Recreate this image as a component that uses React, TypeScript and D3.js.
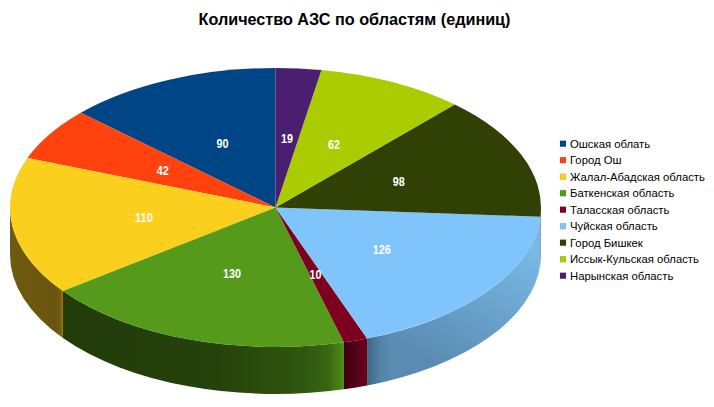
import React from "react";
import * as d3 from "d3";

const categories = ["Ошская облать","Город Ош","Жалал-Абадская область","Баткенская область","Таласская область","Чуйская область","Город Бишкек","Иссык-Кульская область","Нарынская область"];
const values = [90,42,110,130,10,126,98,62,19];
const colors = ["#004586","#ff420e","#fbcf1e","#559a1b","#7e0021","#7fc4fb","#314004","#abcc00","#4b1f6f"];
const title = "Количество АЗС по областям (единиц)";

const W = 714, H = 407;
const cx = 275.5, cy = 207.5, rx = 265.5, ry = 139.5, depth = 47;
const font = "'Liberation Sans', Arial, sans-serif";

const pie = d3.pie<number>().sort(null).startAngle(0).endAngle(-2 * Math.PI);
const arcs = pie(values);
const arcGen = d3.arc<d3.PieArcDatum<number>>().innerRadius(0).outerRadius(rx);
const labelArc = d3.arc<d3.PieArcDatum<number>>().innerRadius(0).outerRadius(rx);
const k = ry / rx;

const pt = (a: number, dy = 0): [number, number] => [cx + rx * Math.sin(a), cy - ry * Math.cos(a) + dy];
const frontStart = (a: number) => Math.min(a, -Math.PI / 2);
const frontEnd = (a: number) => Math.max(a, (-3 * Math.PI) / 2);

// wall of a slice: only the part on the front half of the ellipse
function wall(a0: number, a1: number): string | null {
  const s = frontStart(a0);
  const e = frontEnd(a1);
  if (s <= e) return null;
  const p0 = pt(s), p1 = pt(e), p2 = pt(e, depth), p3 = pt(s, depth);
  return `M${p0[0]},${p0[1]}A${rx},${ry} 0 0 0 ${p1[0]},${p1[1]}L${p2[0]},${p2[1]}A${rx},${ry} 0 0 1 ${p3[0]},${p3[1]}Z`;
}

const wallStops: Record<number, [number, string][]> = {
  2: [[0, "#6f5a10"], [0.85, "#69550f"], [0.94, "#6f5a10"], [1, "#927612"]],
  3: [[0, "#223c0a"], [0.55, "#26420b"], [0.85, "#30560f"], [0.94, "#376612"], [1, "#4f8c1a"]],
  4: [[0, "#3a000f"], [0.5, "#55001a"], [1, "#6d001c"]],
  6: [[0, "#5d7f8f"], [1, "#4d6f7f"]],
};
const blueStops: [number, string][] = [[0, "#7ab8e6"], [1, "#5a8cb2"]];
const blueEdge: [number, number][] = [[0, 0.4], [0.08, 0.1], [0.14, 0]];

export default function App() {
  const blue = wall(arcs[5].startAngle, arcs[5].endAngle);
  const bx = pt(frontStart(arcs[5].startAngle))[0];
  return (
    <svg width={W} height={H} style={{ position: "fixed", left: 0, top: 0, background: "#fff" }} fontFamily={font}>
      <defs>
        {arcs.map((d, i) => {
          const stops = wallStops[i];
          if (!stops) return null;
          const a = pt(frontStart(d.startAngle))[0];
          const b = pt(frontEnd(d.endAngle))[0];
          return (
            <linearGradient key={i} id={`w${i}`} gradientUnits="userSpaceOnUse" x1={a} x2={b} y1={0} y2={0}>
              {stops.map(([o, c], j) => <stop key={j} offset={o} stopColor={c} />)}
            </linearGradient>
          );
        })}
        <linearGradient id="wb" gradientUnits="userSpaceOnUse" x1={525} y1={245} x2={455} y2={375}>
          {blueStops.map(([o, c], j) => <stop key={j} offset={o} stopColor={c} />)}
        </linearGradient>
        <linearGradient id="we" gradientUnits="userSpaceOnUse" x1={bx} x2={541} y1={0} y2={0}>
          {blueEdge.map(([o, c], j) => <stop key={j} offset={o} stopColor="#1a3040" stopOpacity={c} />)}
        </linearGradient>
      </defs>
      <text x={354.5} y={24.5} textAnchor="middle" fontSize={16.2} fontWeight="bold" fill="#000">{title}</text>
      <g>
        {arcs.map((d, i) => {
          const p = wall(d.startAngle, d.endAngle);
          if (!p) return null;
          return <path key={i} d={p} fill={i === 5 ? "url(#wb)" : `url(#w${i})`} />;
        })}
        {blue && <path d={blue} fill="url(#we)" />}
      </g>
      <g transform={`translate(${cx},${cy}) scale(1,${k})`}>
        {arcs.map((d, i) => <path key={i} d={arcGen(d) as string} fill={colors[i]} />)}
      </g>
      <g fill="#fff" fontSize={12.5} fontWeight="bold" textAnchor="middle" stroke="none">
        {arcs.map((d, i) => {
          const [x, y] = labelArc.centroid(d);
          return <text key={i} x={cx + x} y={cy + y * k + 4.5} textLength={String(values[i]).length * 6} lengthAdjust="spacingAndGlyphs">{values[i]}</text>;
        })}
      </g>
      <g fontSize={11.3} fill="#000">
        {categories.map((c, i) => {
          const y = 143.7 + i * 16.5;
          return (
            <g key={c}>
              <rect x={560} y={y - 3} width={6} height={6} fill={colors[i]} stroke="#000" strokeOpacity={0.15} strokeWidth={0.5} />
              <text x={570} y={y + 4}>{c}</text>
            </g>
          );
        })}
      </g>
    </svg>
  );
}
